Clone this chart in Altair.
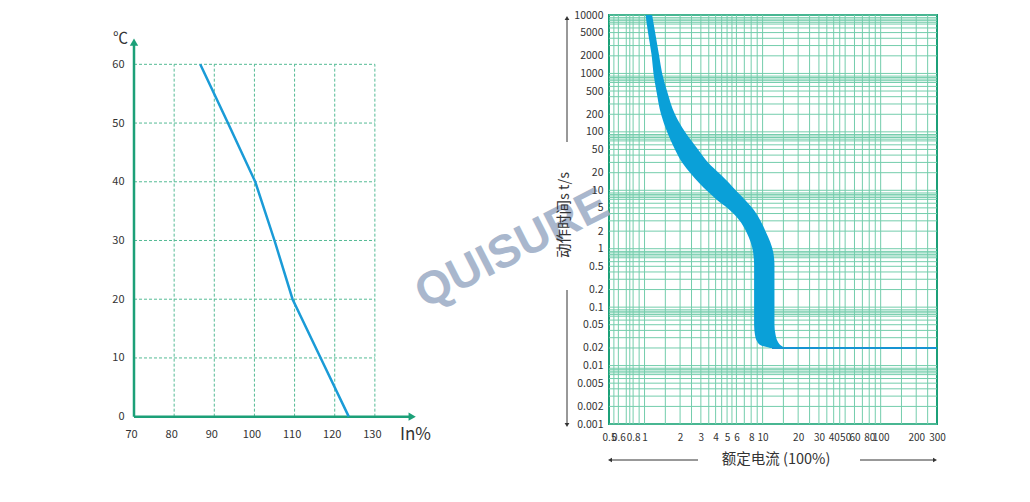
import altair as alt
import pandas as pd

# ---------------- left chart data (temperature derating) ----------------
temp_c = [60, 50, 40, 30, 20, 10, 0]
in_pct = [86.5, 93.4, 100.2, 105.0, 109.5, 116.5, 123.5]
left_x_ticks = [70, 80, 90, 100, 110, 120, 130]
left_y_ticks = [0, 10, 20, 30, 40, 50, 60]
left_grid_x = [80, 90, 100, 110, 120, 130]
left_grid_y = [10, 20, 30, 40, 50, 60]
left_axis_x = [70, 139.3]
left_axis_y = [0, 63.8]

# ---------------- right chart data (trip curve band) ----------------
band_t = [10000, 5000, 2000, 1000, 500, 200, 100, 50, 30, 19, 13.3, 9.4, 6.8, 5, 3.1, 1.9,
          1.3, 0.88, 0.53, 0.05, 0.033, 0.026, 0.0225, 0.02]
band_lo = [1.02, 1.07, 1.15, 1.19, 1.26, 1.38, 1.55, 1.81, 2.08, 2.48, 2.90, 3.45,
           4.11, 5.0, 6.32, 7.32, 7.91, 8.31, 8.47, 8.47, 8.63, 8.97, 9.52, 11.6]
band_hi = [1.16, 1.23, 1.33, 1.41, 1.55, 1.81, 2.20, 2.84, 3.45, 4.36, 5.20, 6.08,
           7.11, 8.15, 9.52, 10.7, 11.6, 12.3, 12.6, 12.6, 12.9, 13.4, 14.1, 15.5]
tail_x = [12, 300]
tail_t = [0.02, 0.02]
right_x_ticks = [0.5, 0.6, 0.8, 1, 2, 3, 4, 5, 6, 8, 10, 20, 30, 40, 50, 60, 80, 100, 200, 300]
right_y_ticks = [10000, 5000, 2000, 1000, 500, 200, 100, 50, 20, 10, 5, 2, 1, 0.5, 0.2,
                 0.1, 0.05, 0.02, 0.01, 0.005, 0.002, 0.001]
grid_x = [0.55, 0.6, 0.7, 0.75, 0.8, 0.9, 1, 1.5, 2, 2.5, 3, 3.5, 4, 4.5, 5, 5.5, 6, 7, 8, 9,
          10, 15, 20, 25, 30, 35, 40, 45, 50, 60, 70, 80, 90, 100, 150, 200, 250]
grid_decades = [0.001, 0.01, 0.1, 1, 10, 100, 1000]
grid_mult = [1, 2, 3, 4, 5, 6, 7, 7.5, 8, 8.5, 9]
grid_t = sorted({round(m * d, 6) for d in grid_decades for m in grid_mult} | {10000})

# ---------------- styles ----------------
FONT = "Noto Sans CJK SC"
GREEN = "#1ca078"
GRID = "#74cdac"
DASH = "#55bb95"
BLUE = "#0aa0d8"
TXT = "#333333"

# ---------------- left chart ----------------
LXS = alt.Scale(domain=[70, 139.5], nice=False, zero=False)
LYS = alt.Scale(domain=[-1.25, 68.4], nice=False, zero=False)
LXA = alt.Axis(values=left_x_ticks, domain=False, ticks=False, grid=False, labelPadding=4,
               labelFontSize=11, labelColor=TXT, labelFont=FONT, labelFlush=False,
               labelOffset=-3,
               title="In%", titleX=281, titleY=10, titleAlign="center", titleBaseline="middle",
               titleFontSize=17, titleFontWeight="normal", titleColor=TXT, titleFont=FONT)
LYA = alt.Axis(values=left_y_ticks, domain=False, ticks=False, grid=False, labelPadding=10,
               labelFontSize=11, labelColor=TXT, labelFont=FONT,
               title="℃", titleAngle=0, titleX=-14, titleY=22, titleAlign="center",
               titleBaseline="middle", titleFontSize=15, titleFontWeight="normal",
               titleColor=TXT, titleFont=FONT)


def lx(f):
    return alt.X(f, type="quantitative", scale=LXS, axis=LXA)


def ly(f):
    return alt.Y(f, type="quantitative", scale=LYS, axis=LYA)


df_lgx = pd.DataFrame({"x": left_grid_x, "y0": [0] * len(left_grid_x), "y1": [60] * len(left_grid_x)})
df_lgy = pd.DataFrame({"y": left_grid_y, "x0": [70] * len(left_grid_y), "x1": [130] * len(left_grid_y)})
df_line = pd.DataFrame({"pct": in_pct, "temp": temp_c})
df_ax = pd.DataFrame({"x0": [left_axis_x[0]], "x1": [left_axis_x[1]],
                      "y0": [left_axis_y[0]], "y1": [left_axis_y[1]]})

l_gv = alt.Chart(df_lgx).mark_rule(color=DASH, strokeWidth=1, strokeDash=[3, 2]).encode(
    x=lx("x"), y=ly("y0"), y2="y1")
l_gh = alt.Chart(df_lgy).mark_rule(color=DASH, strokeWidth=1, strokeDash=[3, 2]).encode(
    y=ly("y"), x=lx("x0"), x2="x1")
l_axy = alt.Chart(df_ax).mark_rule(color=GREEN, strokeWidth=2.5).encode(
    x=lx("x0"), y=ly("y0"), y2="y1")
l_axx = alt.Chart(df_ax).mark_rule(color=GREEN, strokeWidth=2.5).encode(
    y=ly("y0"), x=lx("x0"), x2="x1")
l_arr_up = alt.Chart(df_ax).mark_point(shape="triangle-up", filled=True, color=GREEN,
                                       size=70, opacity=1).encode(x=lx("x0"), y=ly("y1"))
l_arr_rt = alt.Chart(df_ax).mark_point(shape="triangle-right", filled=True, color=GREEN,
                                       size=70, opacity=1).encode(x=lx("x1"), y=ly("y0"))
l_line = alt.Chart(df_line).mark_line(color="#1a9bd7", strokeWidth=2.5).encode(
    x=lx("pct"), y=ly("temp"), order=alt.Order("temp:Q"))

left = alt.layer(l_gv, l_gh, l_axy, l_axx, l_arr_up, l_arr_rt, l_line).properties(
    width=279, height=409)

# ---------------- right chart ----------------
RXS = alt.Scale(type="log", domain=[0.5, 300], nice=False)
RYS = alt.Scale(type="log", domain=[0.001, 10000], nice=False)
RXA = alt.Axis(values=right_x_ticks, format="~g", domain=False, ticks=False, grid=False,
               labelPadding=8, labelFontSize=10, labelColor=TXT, labelFont=FONT,
               labelOverlap=False, labelFlush=False, title=None)
RYA = alt.Axis(values=right_y_ticks, format="~g", domain=False, ticks=False, grid=False,
               labelPadding=6, labelFontSize=10.5, labelColor=TXT, labelFont=FONT,
               labelOverlap=False, labelFlush=False, title=None, zindex=1)


def rx(f):
    return alt.X(f, type="quantitative", scale=RXS, axis=RXA)


def ry(f):
    return alt.Y(f, type="quantitative", scale=RYS, axis=RYA)


df_gx = pd.DataFrame({"x": grid_x, "y0": [0.001] * len(grid_x), "y1": [10000] * len(grid_x)})
df_gy = pd.DataFrame({"y": grid_t, "x0": [0.5] * len(grid_t), "x1": [300] * len(grid_t)})
df_band = pd.DataFrame({"t": band_t, "lo": band_lo, "hi": band_hi})
df_tail = pd.DataFrame({"x": tail_x, "t": tail_t})
one = pd.DataFrame({"k": [0]})

r_gv = alt.Chart(df_gx).mark_rule(color=GRID, strokeWidth=1).encode(
    x=rx("x"), y=ry("y0"), y2="y1")
r_gh = alt.Chart(df_gy).mark_rule(color=GRID, strokeWidth=1).encode(
    y=ry("y"), x=rx("x0"), x2="x1")
r_band = alt.Chart(df_band).mark_area(orient="horizontal", color=BLUE, interpolate="monotone",
                                      opacity=1).encode(y=ry("t"), x=rx("lo"), x2="hi")
r_tail = alt.Chart(df_tail).mark_line(color="#1694d2", strokeWidth=2).encode(
    x=rx("x"), y=ry("t"))

wm = alt.Chart(one).mark_text(text="QUISURE", angle=333, font="Liberation Sans",
                              fontWeight="bold", fontSize=46, color="#a0b0c8", opacity=0.9,
                              align="center", baseline="middle").encode(
    x=alt.value(-97), y=alt.value(234))
ytitle = alt.Chart(one).mark_text(text="动作时间s t/s", angle=270, font=FONT, fontSize=14.5,
                                  color=TXT, align="center", baseline="middle").encode(
    x=alt.value(-44), y=alt.value(200))
xtitle = alt.Chart(one).mark_text(text="额定电流 (100%)", font=FONT, fontSize=14.5,
                                  color=TXT, align="center", baseline="middle").encode(
    x=alt.value(167), y=alt.value(445))
ar_up = alt.Chart(one).mark_rule(color=TXT, strokeWidth=1).encode(
    x=alt.value(-42), y=alt.value(127), y2=alt.value(4))
ar_dn = alt.Chart(one).mark_rule(color=TXT, strokeWidth=1).encode(
    x=alt.value(-42), y=alt.value(275), y2=alt.value(409))
ar_lf = alt.Chart(one).mark_rule(color=TXT, strokeWidth=1).encode(
    y=alt.value(445), x=alt.value(89), x2=alt.value(3))
ar_rt = alt.Chart(one).mark_rule(color=TXT, strokeWidth=1).encode(
    y=alt.value(445), x=alt.value(251), x2=alt.value(324))
hd_up = alt.Chart(one).mark_point(shape="triangle-up", filled=True, color=TXT, size=22,
                                  opacity=1).encode(x=alt.value(-42), y=alt.value(3))
hd_dn = alt.Chart(one).mark_point(shape="triangle-down", filled=True, color=TXT, size=22,
                                  opacity=1).encode(x=alt.value(-42), y=alt.value(410))
hd_lf = alt.Chart(one).mark_point(shape="triangle-left", filled=True, color=TXT, size=22,
                                  opacity=1).encode(x=alt.value(1), y=alt.value(445))
hd_rt = alt.Chart(one).mark_point(shape="triangle-right", filled=True, color=TXT, size=22,
                                  opacity=1).encode(x=alt.value(326), y=alt.value(445))

right = alt.layer(r_gv, r_gh, wm, r_band, r_tail, ytitle, xtitle,
                  ar_up, ar_dn, ar_lf, ar_rt, hd_up, hd_dn, hd_lf, hd_rt).properties(
    width=328, height=409,
    view=alt.ViewBackground(stroke=GREEN, strokeWidth=2))

chart = alt.hconcat(left, right, spacing=196, bounds="flush").properties(
    padding={"left": 103, "top": 1, "right": 10, "bottom": 10},
    background="white",
).configure_view(stroke="transparent")

chart.save("out.html", embed_options={"renderer": "svg", "actions": False})
